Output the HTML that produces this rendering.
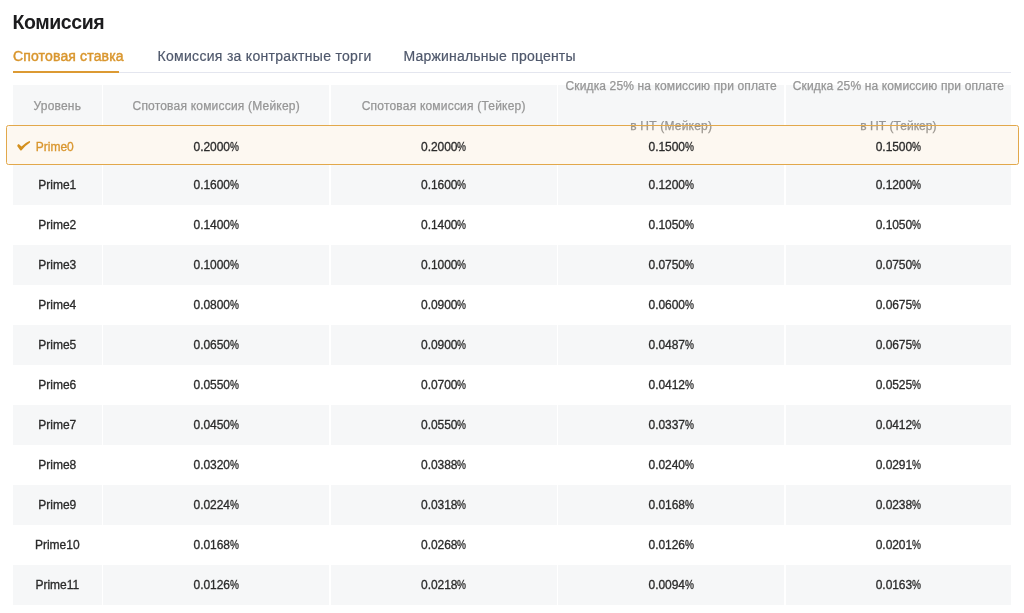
<!DOCTYPE html>
<html lang="ru"><head><meta charset="utf-8"><title>Комиссия</title>
<style>
html,body{margin:0;padding:0;background:#fff;}
body{width:1024px;height:613px;position:relative;overflow:hidden;font-family:"Liberation Sans",sans-serif;color:#333;}
.abs{position:absolute;white-space:nowrap;}
.title{left:12.5px;top:11.3px;font-size:19.5px;line-height:22px;font-weight:bold;color:#1c1c1e;letter-spacing:-0.4px;}
.tab{top:47px;font-size:14px;line-height:18px;color:#4f586c;-webkit-text-stroke:0.2px currentColor;}
.tab.active{color:#d9962e;-webkit-text-stroke:0.45px currentColor;}
.tabline{left:13px;top:72px;width:998px;height:1px;background:#e4e6ef;}
.tabbar{left:13px;top:71.3px;width:106px;height:2px;background:#dc9a33;}
.cell{position:absolute;background:#f6f7f8;}
.th{position:absolute;text-align:center;font-size:12px;line-height:40px;color:#969696;white-space:nowrap;letter-spacing:0.2px;-webkit-text-stroke:0.25px currentColor;}
.td{position:absolute;text-align:center;font-size:12px;line-height:40px;color:#2b2b2b;letter-spacing:-0.3px;white-space:nowrap;-webkit-text-stroke:0.3px currentColor;}
.td.c1{letter-spacing:0;}
.td.n{letter-spacing:-0.05px;}
.p{display:inline-block;transform:scaleX(0.84);transform-origin:0 50%;margin-right:-1.7px;}
.hl{position:absolute;left:5.8px;top:124.6px;width:1012.8px;height:40.4px;box-sizing:border-box;border:1.5px solid #e2a84b;border-bottom-width:1.8px;border-radius:2.5px;background:rgba(222,160,50,0.07);}
.td.first{color:#d9962e;letter-spacing:0;}
</style></head>
<body>
<div class="abs title">Комиссия</div>
<div class="abs tab active" style="left:13px;letter-spacing:0.15px">Спотовая ставка</div>
<div class="abs tab" style="left:157.5px;letter-spacing:0.3px">Комиссия за контрактные торги</div>
<div class="abs tab" style="left:403.5px;letter-spacing:0.2px">Маржинальные проценты</div>
<div class="abs tabline"></div><div class="abs tabbar"></div>
<div class="cell" style="left:13px;top:85px;width:88.6px;height:40px"></div>
<div class="cell" style="left:103.3px;top:85px;width:225.8px;height:40px"></div>
<div class="cell" style="left:330.8px;top:85px;width:225.8px;height:40px"></div>
<div class="cell" style="left:558.3px;top:85px;width:225.8px;height:40px"></div>
<div class="cell" style="left:785.6px;top:85px;width:225.6px;height:40px"></div>
<div class="cell" style="left:13px;top:164.96px;width:88.6px;height:39.96px"></div>
<div class="cell" style="left:103.3px;top:164.96px;width:225.8px;height:39.96px"></div>
<div class="cell" style="left:330.8px;top:164.96px;width:225.8px;height:39.96px"></div>
<div class="cell" style="left:558.3px;top:164.96px;width:225.8px;height:39.96px"></div>
<div class="cell" style="left:785.6px;top:164.96px;width:225.6px;height:39.96px"></div>
<div class="cell" style="left:13px;top:244.88px;width:88.6px;height:39.96px"></div>
<div class="cell" style="left:103.3px;top:244.88px;width:225.8px;height:39.96px"></div>
<div class="cell" style="left:330.8px;top:244.88px;width:225.8px;height:39.96px"></div>
<div class="cell" style="left:558.3px;top:244.88px;width:225.8px;height:39.96px"></div>
<div class="cell" style="left:785.6px;top:244.88px;width:225.6px;height:39.96px"></div>
<div class="cell" style="left:13px;top:324.80px;width:88.6px;height:39.96px"></div>
<div class="cell" style="left:103.3px;top:324.80px;width:225.8px;height:39.96px"></div>
<div class="cell" style="left:330.8px;top:324.80px;width:225.8px;height:39.96px"></div>
<div class="cell" style="left:558.3px;top:324.80px;width:225.8px;height:39.96px"></div>
<div class="cell" style="left:785.6px;top:324.80px;width:225.6px;height:39.96px"></div>
<div class="cell" style="left:13px;top:404.72px;width:88.6px;height:39.96px"></div>
<div class="cell" style="left:103.3px;top:404.72px;width:225.8px;height:39.96px"></div>
<div class="cell" style="left:330.8px;top:404.72px;width:225.8px;height:39.96px"></div>
<div class="cell" style="left:558.3px;top:404.72px;width:225.8px;height:39.96px"></div>
<div class="cell" style="left:785.6px;top:404.72px;width:225.6px;height:39.96px"></div>
<div class="cell" style="left:13px;top:484.64px;width:88.6px;height:39.96px"></div>
<div class="cell" style="left:103.3px;top:484.64px;width:225.8px;height:39.96px"></div>
<div class="cell" style="left:330.8px;top:484.64px;width:225.8px;height:39.96px"></div>
<div class="cell" style="left:558.3px;top:484.64px;width:225.8px;height:39.96px"></div>
<div class="cell" style="left:785.6px;top:484.64px;width:225.6px;height:39.96px"></div>
<div class="cell" style="left:13px;top:564.56px;width:88.6px;height:39.96px"></div>
<div class="cell" style="left:103.3px;top:564.56px;width:225.8px;height:39.96px"></div>
<div class="cell" style="left:330.8px;top:564.56px;width:225.8px;height:39.96px"></div>
<div class="cell" style="left:558.3px;top:564.56px;width:225.8px;height:39.96px"></div>
<div class="cell" style="left:785.6px;top:564.56px;width:225.6px;height:39.96px"></div>
<div class="th" style="left:13px;top:85.8px;width:88.6px;height:40px">Уровень</div>
<div class="th" style="left:103.3px;top:85.8px;width:225.8px;height:40px">Спотовая комиссия (Мейкер)</div>
<div class="th" style="left:330.8px;top:85.8px;width:225.8px;height:40px">Спотовая комиссия (Тейкер)</div>
<div class="th" style="left:558.3px;top:66px;width:225.8px;height:80px"><span style="letter-spacing:0.13px">Скидка 25% на комиссию при оплате</span><br>в НТ (Мейкер)</div>
<div class="th" style="left:785.6px;top:66px;width:225.6px;height:80px"><span style="letter-spacing:0.13px">Скидка 25% на комиссию при оплате</span><br><span style="letter-spacing:0.05px">в НТ (Тейкер)</span></div>
<div class="hl"></div>
<div class="td first" style="left:13px;top:126.50px;width:88.6px"><svg width="16" height="12" viewBox="0 0 16 12" style="position:absolute;left:3px;top:13.5px"><path d="M1.2 6.0 Q1.4 4.6 2.7 4.1 L5.5 6.5 Q9 2.8 13.4 0.9 Q14.5 1.2 14.0 2.5 Q9.2 5.6 5.6 10.3 Q4.9 10.8 4.2 10.2 Z" fill="#d4901e"/></svg><span style="position:relative;left:-2.5px">Prime0</span></div>
<div class="td n" style="left:103.3px;top:126.50px;width:225.8px">0.2000<span class="p">%</span></div>
<div class="td n" style="left:330.8px;top:126.50px;width:225.8px">0.2000<span class="p">%</span></div>
<div class="td n" style="left:558.3px;top:126.50px;width:225.8px">0.1500<span class="p">%</span></div>
<div class="td n" style="left:785.6px;top:126.50px;width:225.6px">0.1500<span class="p">%</span></div>
<div class="td c1" style="left:13px;top:164.96px;width:88.6px">Prime1</div>
<div class="td n" style="left:103.3px;top:164.96px;width:225.8px">0.1600<span class="p">%</span></div>
<div class="td n" style="left:330.8px;top:164.96px;width:225.8px">0.1600<span class="p">%</span></div>
<div class="td n" style="left:558.3px;top:164.96px;width:225.8px">0.1200<span class="p">%</span></div>
<div class="td n" style="left:785.6px;top:164.96px;width:225.6px">0.1200<span class="p">%</span></div>
<div class="td c1" style="left:13px;top:204.92px;width:88.6px">Prime2</div>
<div class="td n" style="left:103.3px;top:204.92px;width:225.8px">0.1400<span class="p">%</span></div>
<div class="td n" style="left:330.8px;top:204.92px;width:225.8px">0.1400<span class="p">%</span></div>
<div class="td n" style="left:558.3px;top:204.92px;width:225.8px">0.1050<span class="p">%</span></div>
<div class="td n" style="left:785.6px;top:204.92px;width:225.6px">0.1050<span class="p">%</span></div>
<div class="td c1" style="left:13px;top:244.88px;width:88.6px">Prime3</div>
<div class="td n" style="left:103.3px;top:244.88px;width:225.8px">0.1000<span class="p">%</span></div>
<div class="td n" style="left:330.8px;top:244.88px;width:225.8px">0.1000<span class="p">%</span></div>
<div class="td n" style="left:558.3px;top:244.88px;width:225.8px">0.0750<span class="p">%</span></div>
<div class="td n" style="left:785.6px;top:244.88px;width:225.6px">0.0750<span class="p">%</span></div>
<div class="td c1" style="left:13px;top:284.84px;width:88.6px">Prime4</div>
<div class="td n" style="left:103.3px;top:284.84px;width:225.8px">0.0800<span class="p">%</span></div>
<div class="td n" style="left:330.8px;top:284.84px;width:225.8px">0.0900<span class="p">%</span></div>
<div class="td n" style="left:558.3px;top:284.84px;width:225.8px">0.0600<span class="p">%</span></div>
<div class="td n" style="left:785.6px;top:284.84px;width:225.6px">0.0675<span class="p">%</span></div>
<div class="td c1" style="left:13px;top:324.80px;width:88.6px">Prime5</div>
<div class="td n" style="left:103.3px;top:324.80px;width:225.8px">0.0650<span class="p">%</span></div>
<div class="td n" style="left:330.8px;top:324.80px;width:225.8px">0.0900<span class="p">%</span></div>
<div class="td n" style="left:558.3px;top:324.80px;width:225.8px">0.0487<span class="p">%</span></div>
<div class="td n" style="left:785.6px;top:324.80px;width:225.6px">0.0675<span class="p">%</span></div>
<div class="td c1" style="left:13px;top:364.76px;width:88.6px">Prime6</div>
<div class="td n" style="left:103.3px;top:364.76px;width:225.8px">0.0550<span class="p">%</span></div>
<div class="td n" style="left:330.8px;top:364.76px;width:225.8px">0.0700<span class="p">%</span></div>
<div class="td n" style="left:558.3px;top:364.76px;width:225.8px">0.0412<span class="p">%</span></div>
<div class="td n" style="left:785.6px;top:364.76px;width:225.6px">0.0525<span class="p">%</span></div>
<div class="td c1" style="left:13px;top:404.72px;width:88.6px">Prime7</div>
<div class="td n" style="left:103.3px;top:404.72px;width:225.8px">0.0450<span class="p">%</span></div>
<div class="td n" style="left:330.8px;top:404.72px;width:225.8px">0.0550<span class="p">%</span></div>
<div class="td n" style="left:558.3px;top:404.72px;width:225.8px">0.0337<span class="p">%</span></div>
<div class="td n" style="left:785.6px;top:404.72px;width:225.6px">0.0412<span class="p">%</span></div>
<div class="td c1" style="left:13px;top:444.68px;width:88.6px">Prime8</div>
<div class="td n" style="left:103.3px;top:444.68px;width:225.8px">0.0320<span class="p">%</span></div>
<div class="td n" style="left:330.8px;top:444.68px;width:225.8px">0.0388<span class="p">%</span></div>
<div class="td n" style="left:558.3px;top:444.68px;width:225.8px">0.0240<span class="p">%</span></div>
<div class="td n" style="left:785.6px;top:444.68px;width:225.6px">0.0291<span class="p">%</span></div>
<div class="td c1" style="left:13px;top:484.64px;width:88.6px">Prime9</div>
<div class="td n" style="left:103.3px;top:484.64px;width:225.8px">0.0224<span class="p">%</span></div>
<div class="td n" style="left:330.8px;top:484.64px;width:225.8px">0.0318<span class="p">%</span></div>
<div class="td n" style="left:558.3px;top:484.64px;width:225.8px">0.0168<span class="p">%</span></div>
<div class="td n" style="left:785.6px;top:484.64px;width:225.6px">0.0238<span class="p">%</span></div>
<div class="td c1" style="left:13px;top:524.60px;width:88.6px">Prime10</div>
<div class="td n" style="left:103.3px;top:524.60px;width:225.8px">0.0168<span class="p">%</span></div>
<div class="td n" style="left:330.8px;top:524.60px;width:225.8px">0.0268<span class="p">%</span></div>
<div class="td n" style="left:558.3px;top:524.60px;width:225.8px">0.0126<span class="p">%</span></div>
<div class="td n" style="left:785.6px;top:524.60px;width:225.6px">0.0201<span class="p">%</span></div>
<div class="td c1" style="left:13px;top:564.56px;width:88.6px">Prime11</div>
<div class="td n" style="left:103.3px;top:564.56px;width:225.8px">0.0126<span class="p">%</span></div>
<div class="td n" style="left:330.8px;top:564.56px;width:225.8px">0.0218<span class="p">%</span></div>
<div class="td n" style="left:558.3px;top:564.56px;width:225.8px">0.0094<span class="p">%</span></div>
<div class="td n" style="left:785.6px;top:564.56px;width:225.6px">0.0163<span class="p">%</span></div>
</body></html>
